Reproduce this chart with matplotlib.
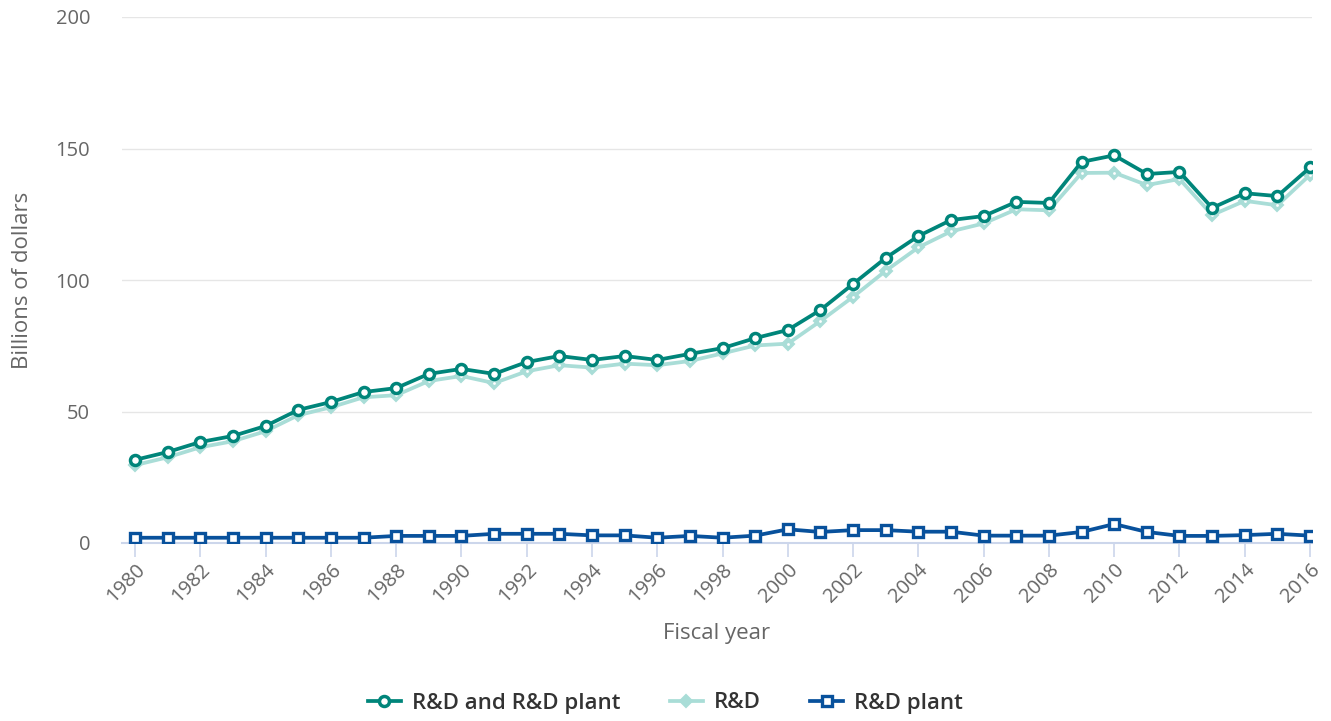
import matplotlib.pyplot as plt
import numpy as np

plt.rcParams['font.family'] = ['Open Sans', 'DejaVu Sans']

years = list(range(1980, 2017))

rd_and_plant = [31.6, 34.6, 38.4, 40.7, 44.5, 50.6, 53.6, 57.4, 58.9, 64.3,
                66.2, 64.3, 68.8, 71.1, 69.6, 71.1, 69.6, 71.9, 74.1, 77.9,
                81.0, 88.6, 98.5, 108.4, 116.7, 122.8, 124.3, 129.7, 129.3, 144.9,
                147.4, 140.3, 141.1, 127.4, 133.0, 131.9, 142.8]

rd = [29.6, 32.6, 36.4, 38.7, 42.5, 48.6, 51.6, 55.4, 56.2, 61.6,
      63.5, 60.8, 65.3, 67.6, 66.7, 68.2, 67.6, 69.2, 72.1, 75.1,
      75.8, 84.4, 93.6, 103.5, 112.4, 118.5, 121.5, 126.9, 126.5, 140.7,
      140.8, 136.1, 138.4, 124.7, 130.1, 128.4, 140.0]

rd_plant = [2.0, 2.0, 2.0, 2.0, 2.0, 2.0, 2.0, 2.0, 2.7, 2.7,
            2.7, 3.5, 3.5, 3.5, 2.9, 2.9, 2.0, 2.7, 2.0, 2.8,
            5.2, 4.2, 4.9, 4.9, 4.3, 4.3, 2.8, 2.8, 2.8, 4.2,
            7.2, 4.2, 2.7, 2.7, 3.0, 3.5, 2.8]

c_total = '#00857a'
c_rd = '#a9ddd7'
c_plant = '#08519c'
grid_c = '#e6e6e6'
axis_c = '#ccd6eb'
text_c = '#666666'

fig = plt.figure(figsize=(13.31, 7.21), dpi=100)
ax = fig.add_axes([122 / 1331, 1 - 543 / 721, (1312 - 122) / 1331, (543 - 17) / 721])

ax.plot(years, rd_plant, color=c_plant, lw=2.7, marker='s', ms=6.5,
        mfc='white', mec=c_plant, mew=2.4, label='R&D plant', zorder=3)
ax.plot(years, rd, color=c_rd, lw=2.7, marker='D', ms=6.5,
        mfc=c_rd, mec=c_rd, mew=1.5, label='R&D', zorder=4)
ax.plot(years, rd, ls='none', marker='o', ms=2, mfc='white', mec='none', zorder=4)
ax.plot(years, rd_and_plant, color=c_total, lw=2.7, marker='o', ms=7.2,
        mfc='white', mec=c_total, mew=2.5, label='R&D and R&D plant', zorder=5)

ax.set_xlim(1979.6, 2016.06)
ax.set_ylim(0, 200)
ax.set_yticks([0, 50, 100, 150, 200])
ax.set_xticks(years[::2])
ax.yaxis.grid(True, color=grid_c, lw=1)
ax.set_axisbelow(True)
for s in ['top', 'right', 'left']:
    ax.spines[s].set_visible(False)
ax.spines['bottom'].set_color(axis_c)
ax.spines['bottom'].set_linewidth(1.5)
ax.tick_params(axis='y', length=0, pad=23, labelsize=14.5, labelcolor=text_c)
ax.tick_params(axis='x', length=10, width=1.2, color=axis_c, labelsize=14.5,
               labelcolor=text_c, pad=2)
plt.setp(ax.get_xticklabels(), rotation=45, ha='right', rotation_mode='anchor')

ax.set_xlabel('Fiscal year', fontsize=16, color=text_c, labelpad=12)
ax.set_ylabel('Billions of dollars', fontsize=16, color=text_c, labelpad=16)

h, l = ax.get_legend_handles_labels()
order = [2, 1, 0]
leg = fig.legend([h[i] for i in order], [l[i] for i in order], loc='center',
                 bbox_to_anchor=(0.5, 1 - 703 / 721), ncol=3, frameon=False,
                 fontsize=16, handlelength=1.5, columnspacing=2.2, handletextpad=0.5)
for t in leg.get_texts():
    t.set_color('#333333')
    t.set_fontweight('semibold')

fig.savefig('out.png', dpi=100)
